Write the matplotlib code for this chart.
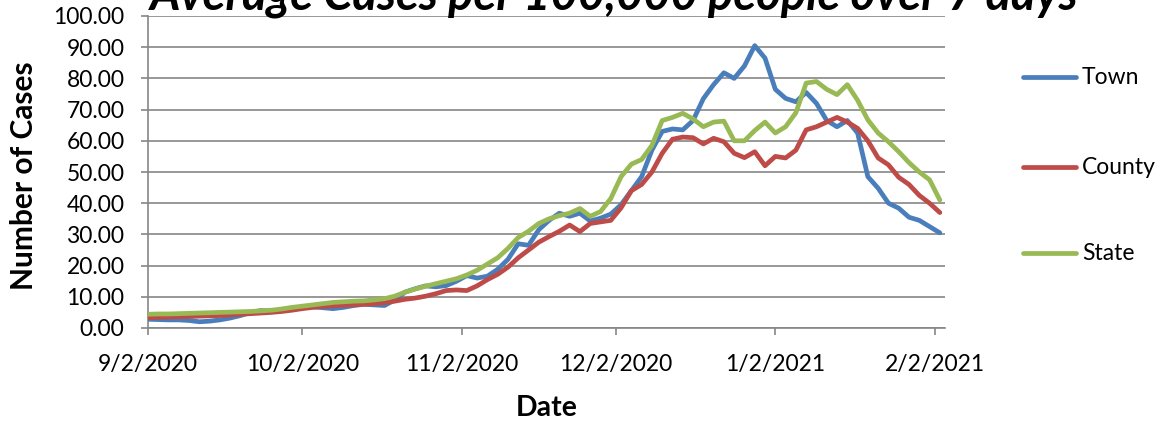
import matplotlib
matplotlib.use("Agg")
import matplotlib.pyplot as plt
from matplotlib.lines import Line2D
from matplotlib.ticker import FuncFormatter, MultipleLocator
import pandas as pd

plt.rcParams['font.family'] = ['Lato', 'DejaVu Sans']

# ---------------- data (7-day average cases per 100,000) ----------------
start_date = "2020-09-02"
step_days = 2
dates = pd.date_range(start_date, periods=78, freq=f"{step_days}D")

town = [2.8, 2.7, 2.6, 2.6, 2.4, 2.0, 2.2, 2.6, 3.2, 4.0,
        5.0, 5.6, 5.4, 5.6, 6.0, 6.6, 6.8, 6.5, 6.2, 6.6,
        7.2, 7.6, 7.4, 7.2, 9.0, 11.5, 12.6, 13.5, 13.2, 13.6,
        15.0, 16.8, 16.0, 16.6, 18.8, 22.0, 27.0, 26.5, 31.5, 34.5,
        36.8, 35.8, 36.8, 34.3, 35.2, 36.5, 39.5, 44.0, 48.5, 57.0,
        63.0, 63.8, 63.5, 66.5, 73.5, 78.0, 81.8, 80.0, 84.0, 90.5,
        86.5, 76.5, 73.6, 72.5, 75.5, 72.0, 66.5, 64.5, 66.5, 62.5,
        48.5, 44.8, 40.0, 38.4, 35.5, 34.5, 32.5, 30.5]

county = [3.3, 3.4, 3.5, 3.6, 3.7, 3.8, 3.9, 4.0, 4.2, 4.4,
          4.6, 4.8, 5.0, 5.3, 5.7, 6.2, 6.6, 6.9, 7.1, 7.3,
          7.4, 7.6, 7.8, 8.1, 8.6, 9.2, 9.6, 10.2, 11.0, 12.0,
          12.2, 12.0, 13.5, 15.5, 17.2, 19.5, 22.5, 25.0, 27.5, 29.3,
          31.0, 33.0, 30.9, 33.5, 34.0, 34.5, 38.5, 44.0, 46.0, 50.0,
          56.0, 60.5, 61.2, 61.0, 59.0, 60.8, 59.7, 56.0, 54.6, 56.5,
          52.0, 55.0, 54.5, 57.0, 63.5, 64.5, 66.0, 67.5, 66.0, 64.0,
          60.0, 54.5, 52.3, 48.3, 46.0, 42.5, 40.0, 37.0]

state = [4.4, 4.5, 4.5, 4.6, 4.7, 4.8, 4.9, 5.0, 5.1, 5.2,
         5.3, 5.5, 5.7, 6.1, 6.6, 7.0, 7.4, 7.8, 8.2, 8.4,
         8.6, 8.7, 9.0, 9.4, 10.2, 11.5, 12.5, 13.4, 14.2, 15.0,
         15.8, 17.0, 18.5, 20.5, 22.5, 25.5, 29.0, 31.0, 33.5, 35.0,
         36.0, 36.8, 38.3, 35.8, 37.3, 41.5, 48.5, 52.5, 54.0, 58.5,
         66.5, 67.5, 68.8, 67.0, 64.5, 66.0, 66.3, 60.0, 60.0, 63.3,
         66.0, 62.5, 64.5, 69.0, 78.5, 79.0, 76.5, 74.8, 78.0, 73.0,
         66.7, 62.5, 59.7, 56.5, 53.0, 50.0, 47.5, 41.0]

series_names = ["Town", "County", "State"]
series_values = [town, county, state]
series_colors = ["#4A7EBB", "#BE4B48", "#98B954"]

tick_dates = ["2020-09-02", "2020-10-02", "2020-11-02", "2020-12-02",
              "2021-01-02", "2021-02-02"]
x_end = "2021-02-04"

title = "Average Cases per 100,000 people over 7 days"
xlabel = "Date"
ylabel = "Number of Cases"

# ---------------- figure ----------------
W, H = 1165, 424
fig = plt.figure(figsize=(W / 100, H / 100), dpi=100)
ax = fig.add_axes([148 / W, 1 - 328 / H, (945 - 148) / W, (328 - 16) / H])

grid_c = "#868686"
for vals, col in zip(series_values, series_colors):
    ax.plot(dates, vals, color=col, lw=3.4, solid_joinstyle="round",
            solid_capstyle="round", zorder=3)

ax.set_ylim(0, 100)
ax.yaxis.set_major_locator(MultipleLocator(10))
ax.yaxis.set_major_formatter(FuncFormatter(lambda v, p: f"{v:.2f}"))
ax.set_xlim(pd.Timestamp(start_date), pd.Timestamp(x_end))
ticks = [pd.Timestamp(t) for t in tick_dates]
ax.set_xticks(ticks)
ax.set_xticklabels([f"{t.month}/{t.day}/{t.year}" for t in ticks])

ax.yaxis.grid(True, color=grid_c, lw=1.2)
ax.set_axisbelow(True)
for s in ["top", "right"]:
    ax.spines[s].set_visible(False)
for s in ["left", "bottom"]:
    ax.spines[s].set_color(grid_c)
    ax.spines[s].set_linewidth(1.2)

ax.tick_params(axis="y", length=5, width=1.2, color=grid_c, pad=12,
               labelsize=16.5, labelcolor="black")
ax.tick_params(axis="x", length=5, width=1.2, color=grid_c, pad=14,
               labelsize=16.5, labelcolor="black")

# axis titles
fig.text(547 / W, 1 - 408 / H, xlabel, ha="center", va="center",
         fontsize=20.5, fontweight="bold")
fig.text(24 / W, 1 - 176 / H, ylabel, ha="center", va="center",
         rotation=90, fontsize=21.5, fontweight="bold")

# chart title (its top is cut off by the image edge in the reference)
t = fig.text(614 / W, 1 - 9 / H, title, ha="center", va="baseline",
             fontsize=28, fontweight="bold", fontstyle="italic")
fig.canvas.draw()
wt = t.get_window_extent().width
t.set_fontsize(28 * 928 / wt)

# legend drawn at the right
leg_y = [77, 167, 253]
for name, col, yy in zip(series_names, series_colors, leg_y):
    fig.add_artist(Line2D([1023 / W, 1076 / W], [1 - yy / H, 1 - yy / H],
                          transform=fig.transFigure, color=col, lw=3.4,
                          solid_capstyle="round"))
    fig.text(1082 / W, 1 - yy / H, name, ha="left", va="center",
             fontsize=16.5)

fig.savefig("out.png", dpi=100)
